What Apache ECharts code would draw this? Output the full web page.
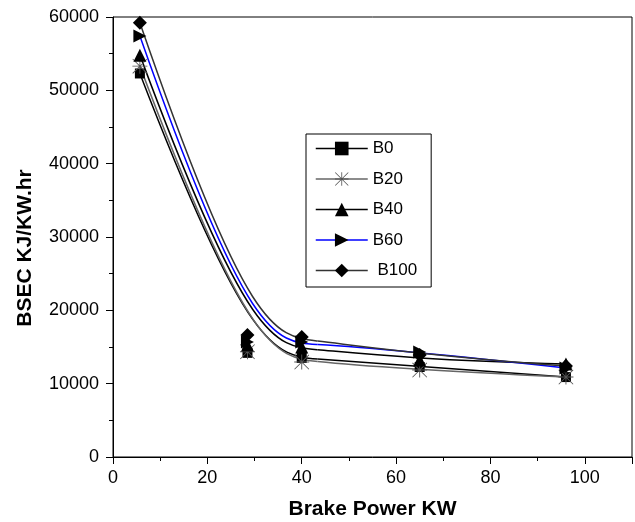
<!DOCTYPE html>
<html>
<head>
<meta charset="utf-8">
<script src="https://cdn.jsdelivr.net/npm/echarts@6/dist/echarts.min.js"></script>
<style>
	html, body { margin: 0; padding: 0; background: #fff; }
	#chart { width: 635px; height: 522px; }
</style>
</head>
<body>
<div id="chart"></div>
<script>
// Brake power (x)
var powerKW = [5.7, 28.5, 40, 65, 96]

// BSEC per blend (y)
var bsecB0 = [52300, 14200, 13500, 12270, 10900]
var bsecB20 = [53300, 14350, 12950, 11860, 10900]
var bsecB40 = [54800, 15270, 15000, 13230, 12680]
var bsecB60 = [57400, 15680, 15680, 14320, 12140]
var bsecB100 = [59200, 16640, 16360, 13900, 12400]

var blendNames = ['B0', 'B20', 'B40', 'B60', 'B100']
var xTicks = [0, 20, 40, 60, 80, 100]

var FONT = 'Liberation Sans, Arial, sans-serif'

// asterisk marker
var starPath = 'path://M0 47L100 47L100 53L0 53Z M47 0L53 0L53 100L47 100Z M4 0L100 96L96 100L0 4Z M96 0L100 4L4 100L0 96Z'

var blends = [
	{ name: 'B0', ys: bsecB0, line: '#000', mark: '#000', symbol: 'rect', size: 10, rotate: 0 },
	{ name: 'B20', ys: bsecB20, line: '#666', mark: '#555', symbol: starPath, size: 15, rotate: 0 },
	{ name: 'B40', ys: bsecB40, line: '#000', mark: '#000', symbol: 'triangle', size: 13, rotate: 0 },
	{ name: 'B60', ys: bsecB60, line: '#0000ff', mark: '#000', symbol: 'triangle', size: 13, rotate: -90 },
	{ name: 'B100', ys: bsecB100, line: '#333', mark: '#000', symbol: 'diamond', size: 14, rotate: 0 }
]

function toXY(ys) {
	return powerKW.map((x, i) => [x, ys[i]])
}

/*
	cubic clamped B-spline, data points as control points
	(5 points -> 2 bezier pieces)
*/
function splineItem(ys, color) {
	return function (params, api) {
		const p = powerKW.map((x, i) => api.coord([x, ys[i]]))
		const mid = (a, b) => [(a[0] + b[0]) / 2, (a[1] + b[1]) / 2]
		const q2 = mid(p[1], p[2])
		const q3 = mid(p[2], p[3])
		const r = mid(q2, q3)
		const style = { stroke: color, fill: null, lineWidth: 1.5 }
		return {
			type: 'group',
			children: [
				{ type: 'bezierCurve', shape: { x1: p[0][0], y1: p[0][1], cpx1: p[1][0], cpy1: p[1][1], cpx2: q2[0], cpy2: q2[1], x2: r[0], y2: r[1] }, style: style },
				{ type: 'bezierCurve', shape: { x1: r[0], y1: r[1], cpx1: q3[0], cpy1: q3[1], cpx2: p[3][0], cpy2: p[3][1], x2: p[4][0], y2: p[4][1] }, style: style }
			]
		}
	}
}

var series = []
blends.forEach(b => {
	series.push({
		type: 'custom',
		name: b.name + ' curve',
		data: [[powerKW[0], b.ys[0]]],
		renderItem: splineItem(b.ys, b.line),
		silent: true,
		z: 1
	})
})
blends.forEach(b => {
	series.push({
		type: 'line',
		name: b.name,
		data: toXY(b.ys),
		symbol: b.symbol,
		symbolSize: b.size,
		symbolRotate: b.rotate,
		showAllSymbol: true,
		clip: false,
		itemStyle: { color: b.mark, borderWidth: 0 },
		lineStyle: { opacity: 0, color: b.line },
		emphasis: { disabled: true },
		z: 3
	})
})

var chart = echarts.init(document.getElementById('chart'))
chart.setOption({
	animation: false,
	grid: {
		left: 113, top: 17, width: 519, height: 440,
		outerBoundsMode: 'none',
		show: true, borderColor: '#000', borderWidth: 1, backgroundColor: 'transparent'
	},
	legend: {
		orient: 'vertical',
		left: 306, top: 134,
		itemWidth: 52, itemHeight: 17, itemGap: 13.5,
		padding: [6, 14, 8, 9],
		borderColor: '#000', borderWidth: 1,
		data: blends.map(b => ({ name: b.name, lineStyle: { color: b.line, width: 1.5, opacity: 1 } })),
		formatter: n => (n === 'B100' ? ' B100' : n),
		textStyle: { fontFamily: FONT, fontSize: 17, color: '#000' },
		selectedMode: false
	},
	xAxis: {
		type: 'value',
		min: 0, max: 110, interval: 20,
		name: 'Brake Power KW',
		nameLocation: 'middle',
		nameGap: 42,
		nameTextStyle: { fontFamily: FONT, fontSize: 21, fontWeight: 'bold', color: '#000' },
		axisLine: { show: true, lineStyle: { color: '#000', width: 1 } },
		axisTick: { show: true, length: 7, lineStyle: { color: '#000' } },
		minorTick: { show: true, splitNumber: 2, length: 4, lineStyle: { color: '#000' } },
		splitLine: { show: false },
		axisLabel: {
			margin: 12, fontFamily: FONT, fontSize: 18, color: '#000',
			formatter: v => (xTicks.indexOf(v) >= 0 ? String(v) : '')
		}
	},
	yAxis: {
		type: 'value',
		min: 0, max: 60000, interval: 10000,
		name: 'BSEC KJ/KW.hr',
		nameLocation: 'middle',
		nameGap: 77,
		nameTextStyle: { fontFamily: FONT, fontSize: 21, fontWeight: 'bold', color: '#000', padding: [0, 22, 0, 0] },
		axisLine: { show: true, lineStyle: { color: '#000', width: 1 } },
		axisTick: { show: true, length: 7, lineStyle: { color: '#000' } },
		minorTick: { show: true, splitNumber: 2, length: 4, lineStyle: { color: '#000' } },
		splitLine: { show: false },
		axisLabel: { margin: 14, fontFamily: FONT, fontSize: 18, color: '#000', formatter: v => String(v) }
	},
	series: series
})
</script>
</body>
</html>
